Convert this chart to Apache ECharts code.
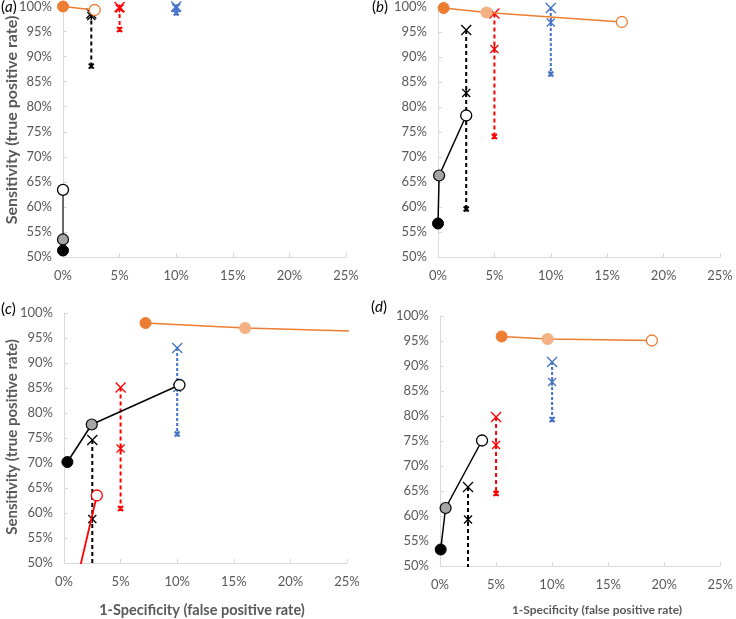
<!DOCTYPE html>
<html>
<head>
<meta charset="utf-8">
<script src="https://cdn.jsdelivr.net/npm/echarts@6/dist/echarts.min.js"></script>
<style>html,body{margin:0;padding:0;background:#fff}#c{width:736px;height:619px}</style>
</head>
<body>
<div id="c"></div>
<script>
// ---- axis ticks ----
const xTicks = [0, 5, 10, 15, 20, 25];
const yTicks = [50, 55, 60, 65, 70, 75, 80, 85, 90, 95, 100];

// ---- panel (a) ----
const aBlack = [[0, 51.3], [0, 53.5], [0, 63.4]];
const aOrange = [[0, 100], [2.8, 99.3]];
const aBlackDash = [[2.5, 98.6], [2.5, 98.1], [2.5, 88.1]];
const aRedDash = [[5, 99.9], [5, 99.6], [5, 95.4]];
const aBlueDash = [[10, 100], [10, 99.7], [10, 98.7]];

// ---- panel (b) ----
const bBlack = [[0, 56.7], [0.1, 66.3], [2.5, 78.3]];
const bOrange = [[0.5, 99.8], [4.3, 98.9], [16.3, 97.0]];
const bBlackDash = [[2.5, 95.4], [2.5, 82.8], [2.5, 59.6]];
const bRedDash = [[5, 98.7], [5, 91.6], [5, 74.1]];
const bBlueDash = [[10, 99.8], [10, 96.9], [10, 86.6]];

// ---- panel (c) ----
const cBlack = [[0.3, 70.2], [2.45, 77.7], [10.2, 85.6]];
const cOrange = [[7.2, 98.0], [16.0, 97.0], [40, 95.4]];
const cRed = [[0.5, 40.3], [2.9, 63.5]];
const cBlackDash = [[2.5, 74.6], [2.5, 58.8], [2.5, 45.0]];
const cRedDash = [[5, 85.1], [5, 72.9], [5, 60.9]];
const cBlueDash = [[10, 93.0], [10, 85.0], [10, 75.8]];

// ---- panel (d) ----
const dBlack = [[0.06, 53.3], [0.5, 61.6], [3.75, 75.1]];
const dOrange = [[5.5, 95.9], [9.6, 95.4], [18.9, 95.1]];
const dBlackDash = [[2.5, 65.8], [2.5, 59.3], [2.5, 45.0]];
const dRedDash = [[5, 79.8], [5, 74.2], [5, 64.5]];
const dBlueDash = [[10, 90.8], [10, 86.8], [10, 79.3]];

// ---- labels ----
const panelLetters = ['a', 'b', 'c', 'd'];
const yTitle = 'Sensitivity (true positive rate)';
const xTitle = '1-Specificity (false positive rate)';

// ---------- styling / building ----------
const ORANGE = '#ED7D31', LIGHT = '#F4B183', RED = '#FF0000', BLUE = '#4472C4';
const X_SYM = 'path://M0,0L10,10M10,0L0,10';
const AST_SYM = 'path://M0,0L10,10M10,0L0,10M5,0L5,10';

const grids = [
  {left: 63, top: 6, width: 283, height: 251},
  {left: 438, top: 7, width: 282, height: 250},
  {left: 64, top: 313, width: 283, height: 250},
  {left: 440, top: 316, width: 282, height: 250}
];

const lblColor = '#595959';
const FONT = 'Lato, "Open Sans", sans-serif';

function mkX(i) {
  return {
    gridIndex: i, type: 'value', min: xTicks[0], max: xTicks[xTicks.length - 1],
    interval: xTicks[1] - xTicks[0],
    axisLine: {onZero: false, lineStyle: {color: '#d9d9d9', width: 1}},
    axisTick: {inside: true, length: 4, lineStyle: {color: '#d9d9d9'}},
    splitLine: {show: false},
    axisLabel: {formatter: '{value}%', color: lblColor, fontSize: 13, fontFamily: FONT, margin: 12}
  };
}
function mkY(i) {
  return {
    gridIndex: i, type: 'value', min: yTicks[0], max: yTicks[yTicks.length - 1],
    interval: yTicks[1] - yTicks[0],
    axisLine: {show: true, onZero: false, lineStyle: {color: '#d9d9d9', width: 1}},
    axisTick: {show: true, inside: true, length: 4, lineStyle: {color: '#d9d9d9'}},
    splitLine: {show: false},
    axisLabel: {formatter: '{value}%', color: lblColor, fontSize: 13, fontFamily: FONT, margin: 11}
  };
}

function circleStyle(kind, main, lineColor) {
  if (kind === 'fill') return {color: main, borderColor: main, borderWidth: 1};
  if (kind === 'mid') return {color: main === ORANGE ? LIGHT : '#A5A5A5', borderColor: main === ORANGE ? LIGHT : '#000', borderWidth: 1.2};
  if (kind === 'open') return {color: '#fff', borderColor: main, borderWidth: 1.3};
  return {color: main};
}

function pointLine(i, arr, kinds, color, lineColor, width) {
  return {
    type: 'line', xAxisIndex: i, yAxisIndex: i, z: 5, clip: true,
    symbol: 'circle', symbolSize: 11, showAllSymbol: true,
    lineStyle: {color: lineColor, width: width},
    data: arr.map((p, k) => ({
      value: p,
      symbol: kinds[k] === 'none' ? 'none' : 'circle',
      itemStyle: circleStyle(kinds[k], color)
    }))
  };
}

function dashLine(i, arr, color, dash) {
  const syms = [X_SYM, AST_SYM, AST_SYM];
  const sizes = [10, 8, 5];
  const bw = [1.3, 1.3, 2];
  return {
    type: 'line', xAxisIndex: i, yAxisIndex: i, z: 3, clip: true,
    showAllSymbol: true,
    lineStyle: {color: color, width: 2, type: dash},
    data: arr.map((p, k) => ({
      value: p, symbol: syms[k], symbolSize: sizes[k],
      itemStyle: {color: 'none', borderColor: color, borderWidth: bw[k]}
    }))
  };
}

const series = [];
const panels = [
  {black: aBlack, orange: aOrange, okinds: ['fill', 'open'], bd: aBlackDash, rd: aRedDash, bl: aBlueDash, blackLine: '#404040'},
  {black: bBlack, orange: bOrange, okinds: ['fill', 'mid', 'open'], bd: bBlackDash, rd: bRedDash, bl: bBlueDash},
  {black: cBlack, orange: cOrange, okinds: ['fill', 'mid', 'open'], bd: cBlackDash, rd: cRedDash, bl: cBlueDash, red: cRed},
  {black: dBlack, orange: dOrange, okinds: ['fill', 'mid', 'open'], bd: dBlackDash, rd: dRedDash, bl: dBlueDash}
];
panels.forEach((p, i) => {
  series.push(dashLine(i, p.bd, '#000', [4, 3]));
  series.push(dashLine(i, p.rd, RED, [4, 3]));
  series.push(dashLine(i, p.bl, BLUE, [3, 2]));
  if (p.red) series.push(pointLine(i, p.red, ['none', 'open'], RED, RED, 1.8));
  series.push(pointLine(i, p.black, ['fill', 'mid', 'open'], '#000', p.blackLine || '#000', 1.5));
  series.push(pointLine(i, p.orange, p.okinds, ORANGE, ORANGE, 1.5));
});

const labelPos = [[1, 0], [372, 0], [1, 302], [371, 300]];
const titles = panelLetters.map((l, i) => ({
  text: '{p|(}{i|' + l + '}{p|)}',
  left: labelPos[i][0], top: labelPos[i][1], padding: 0,
  textStyle: {fontWeight: 'normal', rich: {
    p: {fontSize: 15, color: '#000', fontWeight: 'normal', fontFamily: FONT},
    i: {fontSize: 15, color: '#000', fontWeight: 'normal', fontStyle: 'italic', fontFamily: FONT}
  }}
}));

const graphic = [
  {type: 'text', x: 12, y: 120, rotation: Math.PI / 2, style: {text: yTitle, fill: lblColor, font: 'bold 16px ' + FONT, align: 'center', verticalAlign: 'middle'}},
  {type: 'text', x: 12, y: 437, rotation: Math.PI / 2, style: {text: yTitle, fill: lblColor, font: 'bold 15px ' + FONT, align: 'center', verticalAlign: 'middle'}},
  {type: 'text', x: 202, y: 610, style: {text: xTitle, fill: lblColor, font: 'bold 14.5px ' + FONT, align: 'center', verticalAlign: 'middle'}},
  {type: 'text', x: 597, y: 610, style: {text: xTitle, fill: lblColor, font: 'bold 12px ' + FONT, align: 'center', verticalAlign: 'middle'}}
];

const chart = echarts.init(document.getElementById('c'), null, {renderer: 'canvas'});
chart.setOption({
  animation: false,
  backgroundColor: '#fff',
  title: titles,
  grid: grids,
  xAxis: [0, 1, 2, 3].map(mkX),
  yAxis: [0, 1, 2, 3].map(mkY),
  series: series,
  graphic: graphic
});
</script>
</body>
</html>
